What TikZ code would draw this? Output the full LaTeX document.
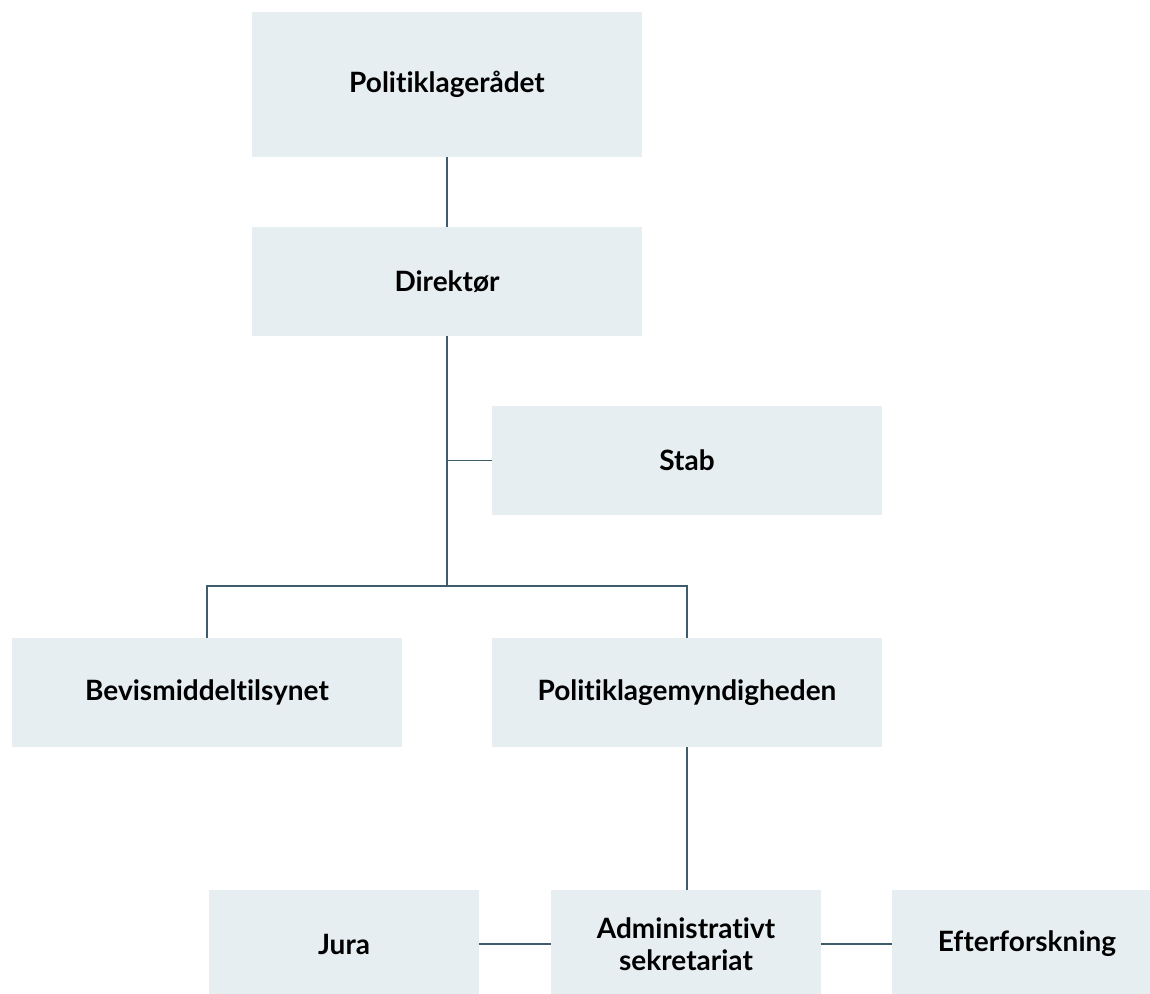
\documentclass[tikz,border=0pt]{standalone}
\usepackage{fontspec}
\setmainfont{Lato}[Ligatures=NoCommon]
\usepackage{xcolor}
\usetikzlibrary{positioning, calc}

\definecolor{boxfill}{RGB}{231,238,242}
\definecolor{linecol}{RGB}{62,92,106}

\begin{document}
\begin{tikzpicture}[x=0.75pt, y=-0.75pt,
		unit/.style={fill=boxfill, draw=none, minimum width=292.5pt, minimum height=81.75pt, align=center, font=\fontsize{21}{24}\selectfont\bfseries, inner sep=0pt},
		subunit/.style={unit, minimum width=202.5pt, minimum height=81pt},
		link/.style={draw=linecol, line width=1.1pt}]
			\useasboundingbox (0, 0) rectangle (1150, 993);
			\node [unit, minimum height=108.75pt] (raad) at (447, 84.5) {Politiklagerådet};
			\node [unit] (direktor) at (447, 281.5) {Direktør};
			\node [unit] (stab) at (687, 460.5) {Stab};
			\node [unit] (bevis) at (207, 692.5) {Bevismiddeltilsynet};
			\node [unit] (myndighed) at (687, 692.5) {Politiklagemyndigheden};
			\node [subunit] (jura) at (344, 944) {Jura};
			\node [subunit] (admin) at (686, 944) {Administrativt\\sekretariat};
			\node [subunit] (efter) at (1027, 944) {Efterforskning};
			\coordinate (split) at (447, 586);
			\draw [link] (raad) -- (direktor);
			\draw [link] (direktor) -- (split);
			\draw [link] (direktor.south |- stab.west) -- (stab.west);
			\draw [link] (split) -| (bevis.north);
			\draw [link] (split) -| (myndighed.north);
			\draw [link] (myndighed.south) -- (myndighed.south |- admin.north);
			\draw [link] (jura) -- (admin);
			\draw [link] (admin) -- (efter);
		\end{tikzpicture}
\end{document}
